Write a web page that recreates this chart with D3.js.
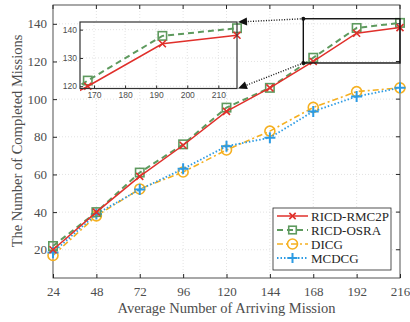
<!DOCTYPE html>
<html>
<head>
<meta charset="UTF-8">
<script src="https://d3js.org/d3.v7.min.js"></script>
<style>
  * { margin: 0; padding: 0; }
  body { background: #fff; }
  text { font-family: "Liberation Serif", "Times New Roman", serif; }
</style>
</head>
<body>
<div id="chart"></div>
<script>
const xVals = [24, 48, 72, 96, 120, 144, 168, 192, 216];
const rmc2p = [20, 40, 59, 75.5, 93.5, 106, 120, 135, 138];
const osra  = [22, 40, 61, 76, 95.5, 106, 122, 137.8, 140.5];
const dicg  = [17, 38, 52.3, 61.3, 73, 83, 95.6, 104, 106];
const mcdcg = [18.6, 39, 52, 63, 75, 79.5, 93.5, 101.4, 106];
const yTicks = [20, 40, 60, 80, 100, 120, 140];
const insetXTicks = [170, 180, 190, 200, 210];
const insetYTicks = [120, 130, 140];

const series = [
  {name: "RICD-RMC2P", values: rmc2p, color: "#e0302b", dash: null, marker: "x", width: 1.5},
  {name: "RICD-OSRA", values: osra, color: "#5e9a5e", dash: "6,4", marker: "square", width: 2},
  {name: "DICG", values: dicg, color: "#f5b020", dash: "6,3,2,3", marker: "circle", width: 1.6},
  {name: "MCDCG", values: mcdcg, color: "#2d9be3", dash: "1.5,2", marker: "plus", width: 1.8}
];

const W = 410, H = 322;
const m = {left: 53, right: 400, top: 5, bottom: 278};

const svg = d3.select("#chart").append("svg").attr("width", W).attr("height", H);
const defs = svg.append("defs");

const x = d3.scaleLinear().domain([24, 216]).range([m.left, m.right]);
const y = d3.scaleLinear().domain([5, 150]).range([m.bottom, m.top]);

// grid
svg.append("g").selectAll("line").data(xVals.slice(1, -1)).enter().append("line")
  .attr("x1", d => x(d)).attr("x2", d => x(d)).attr("y1", m.top).attr("y2", m.bottom)
  .attr("stroke", "#dcdcdc").attr("stroke-width", 0.8).attr("stroke-dasharray", "1,2");
svg.append("g").selectAll("line").data(yTicks).enter().append("line")
  .attr("x1", m.left).attr("x2", m.right).attr("y1", d => y(d)).attr("y2", d => y(d))
  .attr("stroke", "#dcdcdc").attr("stroke-width", 0.8).attr("stroke-dasharray", "1,2");

// axes (inward ticks)
const axColor = "#262626";
const xAxis = svg.append("g").attr("transform", `translate(0,${m.bottom})`)
  .call(d3.axisBottom(x).tickValues(xVals).tickSize(-4).tickPadding(9));
const yAxis = svg.append("g").attr("transform", `translate(${m.left},0)`)
  .call(d3.axisLeft(y).tickValues(yTicks).tickSize(-4).tickPadding(6));
[xAxis, yAxis].forEach(g => {
  g.select(".domain").remove();
  g.selectAll("line").attr("stroke", axColor);
  g.selectAll("text").style("font-family", "Liberation Serif").style("font-size", "13px").attr("fill", "#4d4d4d");
});
svg.append("g").selectAll("line").data(yTicks).enter().append("line")
  .attr("x1", m.right).attr("x2", m.right - 4).attr("y1", d => y(d)).attr("y2", d => y(d)).attr("stroke", axColor);
svg.append("g").selectAll("line").data(xVals).enter().append("line")
  .attr("x1", d => x(d)).attr("x2", d => x(d)).attr("y1", m.top).attr("y2", m.top + 4).attr("stroke", axColor);
svg.append("rect").attr("x", m.left).attr("y", m.top).attr("width", m.right - m.left).attr("height", m.bottom - m.top)
  .attr("fill", "none").attr("stroke", axColor).attr("stroke-width", 0.8);

svg.append("text").attr("x", (m.left + m.right) / 2).attr("y", 313).attr("text-anchor", "middle")
  .style("font-size", "14.5px").attr("fill", "#4d4d4d").text("Average Number of Arriving Mission");
svg.append("text").attr("transform", `translate(22,141) rotate(-90)`).attr("text-anchor", "middle")
  .style("font-size", "14.5px").attr("fill", "#4d4d4d").text("The Number of Completed Missions");

function drawMarker(g, type, cx, cy, color, s) {
  if (type === "x") {
    g.append("path").attr("d", `M${cx-s},${cy-s}L${cx+s},${cy+s}M${cx-s},${cy+s}L${cx+s},${cy-s}`)
      .attr("stroke", color).attr("stroke-width", 1.6).attr("fill", "none");
  } else if (type === "square") {
    g.append("rect").attr("x", cx - s).attr("y", cy - s).attr("width", 2 * s).attr("height", 2 * s)
      .attr("stroke", color).attr("stroke-width", 1.6).attr("fill", "none");
  } else if (type === "circle") {
    g.append("circle").attr("cx", cx).attr("cy", cy).attr("r", s)
      .attr("stroke", color).attr("stroke-width", 1.6).attr("fill", "none");
  } else if (type === "plus") {
    g.append("path").attr("d", `M${cx-s},${cy}L${cx+s},${cy}M${cx},${cy-s}L${cx},${cy+s}`)
      .attr("stroke", color).attr("stroke-width", 2).attr("fill", "none");
  }
}
const mSize = {x: 3.5, square: 4.2, circle: 5, plus: 5.5};

function drawSeries(g, sx, sy, xs, drawOrder) {
  drawOrder.forEach(s => {
    const pts = xs.map((v, i) => [v, s.values[i]]);
    g.append("path").datum(pts)
      .attr("d", d3.line().x(d => sx(d[0])).y(d => sy(d[1])))
      .attr("fill", "none").attr("stroke", s.color).attr("stroke-width", s.width)
      .attr("stroke-dasharray", s.dash);
    pts.forEach(p => drawMarker(g, s.marker, sx(p[0]), sy(p[1]), s.color, mSize[s.marker]));
  });
}

const order = [series[2], series[3], series[1], series[0]];
drawSeries(svg.append("g"), x, y, xVals, order);

// zoom rectangle
const zx0 = 162.5, zx1 = 216, zy0 = 119.2, zy1 = 142.7;
svg.append("rect").attr("x", x(zx0)).attr("y", y(zy1)).attr("width", x(zx1) - x(zx0)).attr("height", y(zy0) - y(zy1))
  .attr("fill", "none").attr("stroke", "#111").attr("stroke-width", 1.4);

// inset
const ins = {left: 80, right: 237, top: 22, bottom: 88.5};
const ix = d3.scaleLinear().domain([165.5, 216]).range([ins.left, ins.right]);
const iy = d3.scaleLinear().domain([zy0, zy1]).range([ins.bottom, ins.top]);
const inset = svg.append("g");
inset.append("rect").attr("x", ins.left).attr("y", ins.top).attr("width", ins.right - ins.left).attr("height", ins.bottom - ins.top)
  .attr("fill", "#fff");
inset.append("g").selectAll("line").data(insetXTicks).enter().append("line")
  .attr("x1", d => ix(d)).attr("x2", d => ix(d)).attr("y1", ins.top).attr("y2", ins.bottom)
  .attr("stroke", "#dcdcdc").attr("stroke-width", 0.8).attr("stroke-dasharray", "1,2");
inset.append("g").selectAll("line").data(insetYTicks).enter().append("line")
  .attr("x1", ins.left).attr("x2", ins.right).attr("y1", d => iy(d)).attr("y2", d => iy(d))
  .attr("stroke", "#dcdcdc").attr("stroke-width", 0.8).attr("stroke-dasharray", "1,2");
defs.append("clipPath").attr("id", "insclip").append("rect")
  .attr("x", ins.left).attr("y", ins.top - 6).attr("width", ins.right - ins.left + 6).attr("height", ins.bottom - ins.top + 12);
const insData = inset.append("g").attr("clip-path", "url(#insclip)");
[series[1], series[0]].forEach(s => {
  const pts = xVals.map((v, i) => [v, s.values[i]]).filter(p => p[0] >= 144);
  insData.append("path").datum(pts)
    .attr("d", d3.line().x(d => ix(d[0])).y(d => iy(d[1])))
    .attr("fill", "none").attr("stroke", s.color).attr("stroke-width", s.width)
    .attr("stroke-dasharray", s.dash);
  pts.filter(p => p[0] >= 168).forEach(p => drawMarker(insData, s.marker, ix(p[0]), iy(p[1]), s.color, mSize[s.marker]));
});
const ixAxis = inset.append("g").attr("transform", `translate(0,${ins.bottom})`)
  .call(d3.axisBottom(ix).tickValues(insetXTicks).tickSize(-3).tickPadding(3));
const iyAxis = inset.append("g").attr("transform", `translate(${ins.left},0)`)
  .call(d3.axisLeft(iy).tickValues(insetYTicks).tickSize(-3).tickPadding(3));
[ixAxis, iyAxis].forEach(g => {
  g.select(".domain").remove();
  g.selectAll("line").attr("stroke", axColor);
  g.selectAll("text").style("font-family", "Liberation Sans").style("font-size", "8.5px").attr("fill", "#4d4d4d");
});
inset.append("rect").attr("x", ins.left).attr("y", ins.top).attr("width", ins.right - ins.left).attr("height", ins.bottom - ins.top)
  .attr("fill", "none").attr("stroke", "#333").attr("stroke-width", 1.2);

// dotted connectors with arrowheads
const links = [[zx0, zy1, ins.right, ins.top], [zx0, zy0, ins.right, ins.bottom]];
links.forEach(l => {
  const x1 = x(l[0]), y1 = y(l[1]), x2 = l[2] + 1, y2 = l[3];
  const ang = Math.atan2(y2 - y1, x2 - x1);
  const len = 9, half = 4;
  const bx = x2 - len * Math.cos(ang), by = y2 - len * Math.sin(ang);
  svg.append("line").attr("x1", x1).attr("y1", y1).attr("x2", bx).attr("y2", by)
    .attr("stroke", "#111").attr("stroke-width", 1.4).attr("stroke-dasharray", "1,1.6");
  const px = -Math.sin(ang) * half, py = Math.cos(ang) * half;
  svg.append("path").attr("d", `M${x2},${y2}L${bx + px},${by + py}L${bx - px},${by - py}Z`).attr("fill", "#111");
  svg.append("circle").attr("cx", x1).attr("cy", y1).attr("r", 2).attr("fill", "#111");
});

// legend
const lg = svg.append("g").attr("transform", "translate(273,208)");
lg.append("rect").attr("width", 118).attr("height", 62).attr("fill", "#fff").attr("stroke", axColor).attr("stroke-width", 0.8);
series.forEach((s, i) => {
  const cy = 8 + i * 14;
  lg.append("line").attr("x1", 4).attr("x2", 35).attr("y1", cy).attr("y2", cy)
    .attr("stroke", s.color).attr("stroke-width", s.width).attr("stroke-dasharray", s.dash);
  drawMarker(lg, s.marker, 19.5, cy, s.color, mSize[s.marker] * (s.marker === "circle" ? 1 : 0.9));
  lg.append("text").attr("x", 38).attr("y", cy).attr("dy", "0.35em")
    .style("font-size", "13px").attr("fill", "#262626").text(s.name);
});
</script>
</body>
</html>
